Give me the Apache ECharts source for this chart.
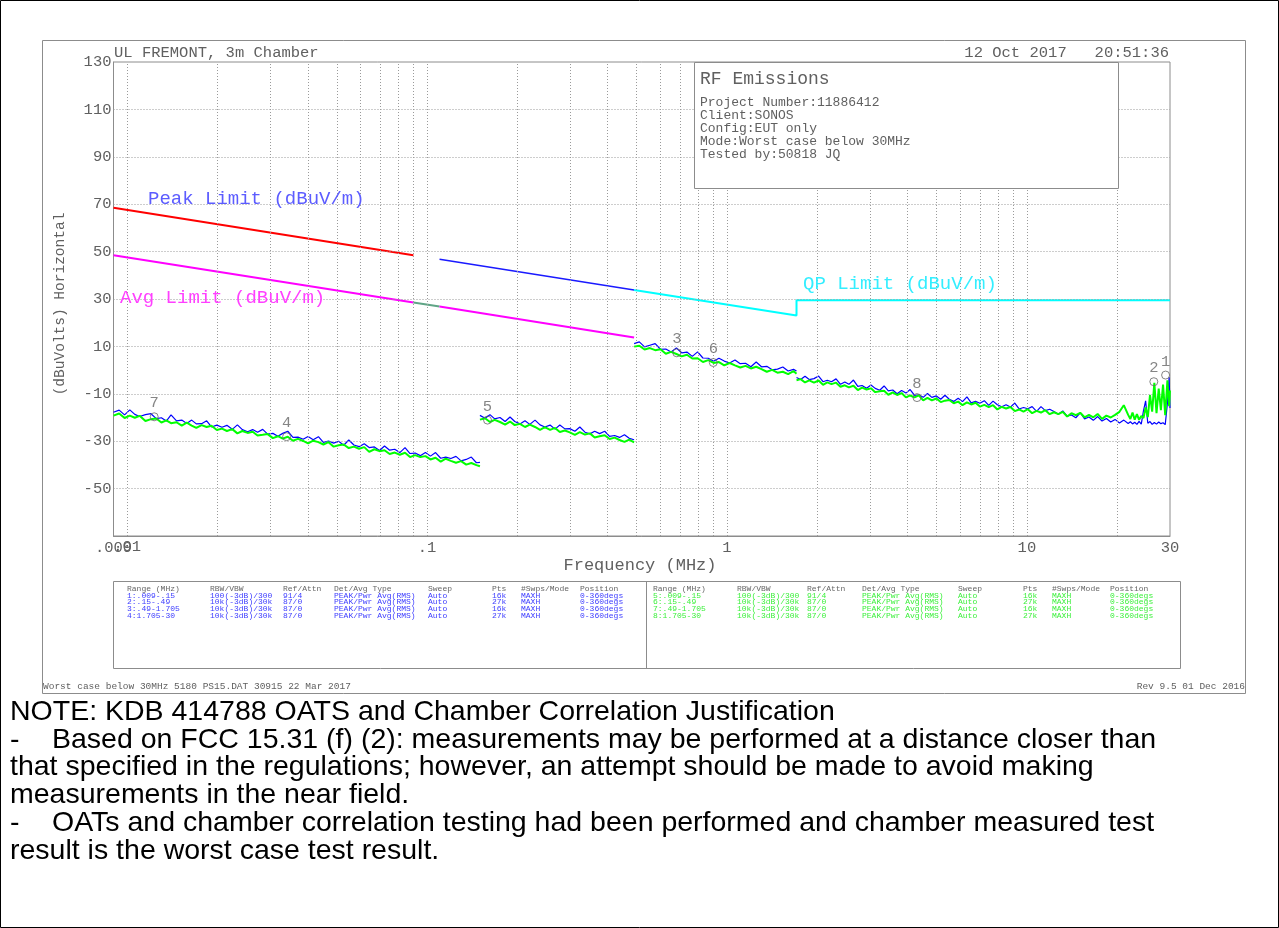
<!DOCTYPE html>
<html>
<head>
<meta charset="utf-8">
<title>RF Emissions</title>
<script src="https://cdn.jsdelivr.net/npm/echarts@6/dist/echarts.min.js"></script>
<style>
  html, body { margin: 0; padding: 0; background: #fff; }
  #c { width: 1279px; height: 928px; }
</style>
</head>
<body>
<div id="c"></div>
<script>
// ---- Sweep data (frequency in MHz, level in dBuV/m) ----
// Range 1 / 5 : 0.009 - 0.15 MHz
const freqR1 = [0.0090,0.0094,0.0098,0.0102,0.0106,0.0110,0.0115,0.0120,0.0125,0.0130,0.0135,0.0140,0.0146,0.0152,0.0158,0.0164,0.0170,0.0177,0.0184,0.0191,0.0199,0.0207,0.0215,0.0224,0.0233,0.0242,0.0252,0.0262,0.0272,0.0283,0.0294,0.0306,0.0318,0.0330,0.0343,0.0357,0.0371,0.0386,0.0401,0.0417,0.0434,0.0451,0.0469,0.0488,0.0507,0.0527,0.0548,0.0570,0.0593,0.0617,0.0641,0.0667,0.0694,0.0721,0.0750,0.0780,0.0811,0.0844,0.0877,0.0912,0.0949,0.0987,0.1026,0.1067,0.1110,0.1154,0.1200,0.1248,0.1298,0.1350,0.1404,0.1460,0.1500];
const peakR1 = [-17.8,-16.9,-18.9,-16.8,-18.7,-19.6,-18.8,-18.4,-20.5,-20.1,-21.5,-18.9,-21.4,-21.1,-22.5,-21.1,-22.7,-22.6,-21.4,-24.0,-23.2,-24.1,-23.3,-25.0,-23.1,-25.1,-26.0,-25.1,-26.2,-25.0,-27.0,-26.7,-27.9,-26.7,-25.8,-28.4,-28.3,-29.2,-28.0,-29.4,-28.1,-30.5,-29.9,-30.8,-30.0,-31.7,-29.5,-31.6,-32.3,-31.1,-32.7,-32.4,-33.9,-32.0,-33.8,-33.4,-34.8,-32.7,-35.2,-35.0,-36.1,-34.8,-36.3,-34.8,-37.2,-36.7,-37.3,-36.4,-38.3,-37.7,-36.7,-39.1,-38.9];
const avgR1 = [-19.2,-18.3,-20.2,-19.2,-20.1,-19.3,-21.5,-20.7,-20.4,-22.1,-21.2,-22.4,-22.0,-23.4,-22.2,-23.4,-24.4,-23.2,-24.0,-23.5,-25.3,-24.7,-25.7,-24.9,-26.7,-25.7,-26.5,-26.0,-27.6,-27.3,-27.0,-28.7,-27.9,-28.9,-28.1,-29.8,-29.0,-29.9,-30.9,-29.8,-30.4,-31.4,-30.4,-32.3,-31.7,-31.4,-32.9,-32.3,-33.2,-32.5,-34.5,-33.4,-34.2,-33.8,-35.4,-34.8,-35.7,-34.9,-36.7,-35.9,-36.7,-36.3,-37.7,-37.0,-38.6,-37.4,-38.3,-39.1,-38.4,-39.9,-39.2,-40.1,-40.6];

// Range 2 / 6 : 0.15 - 0.49 MHz
const freqR2 = [0.150,0.156,0.162,0.168,0.175,0.182,0.189,0.196,0.204,0.212,0.220,0.229,0.238,0.247,0.257,0.267,0.277,0.288,0.299,0.311,0.323,0.336,0.349,0.362,0.376,0.391,0.406,0.422,0.438,0.455,0.472,0.490];
const peakR2 = [-19.1,-20.3,-18.8,-20.6,-20.0,-21.7,-19.8,-21.7,-22.7,-21.4,-22.9,-21.1,-23.1,-24.0,-23.2,-24.9,-23.2,-24.8,-24.7,-25.8,-24.0,-26.2,-26.9,-25.8,-26.8,-25.8,-28.0,-27.6,-28.4,-27.3,-28.8,-29.4];
const avgR2 = [-20.9,-20.3,-21.9,-21.0,-21.9,-23.0,-21.7,-23.2,-22.7,-24.0,-23.0,-24.0,-25.2,-24.1,-25.2,-24.4,-26.1,-25.5,-26.3,-27.3,-26.2,-27.2,-26.7,-28.4,-27.9,-27.5,-29.1,-28.5,-29.5,-30.3,-29.3,-30.5];

// Range 3 / 7 : 0.49 - 1.705 MHz
const freqR3 = [0.490,0.510,0.531,0.553,0.576,0.600,0.625,0.651,0.678,0.706,0.735,0.766,0.798,0.831,0.866,0.902,0.940,0.979,1.020,1.063,1.107,1.153,1.201,1.251,1.303,1.357,1.414,1.473,1.535,1.599,1.666,1.705];
const peakR3 = [11.2,11.9,9.8,10.5,11.2,8.8,8.9,7.6,9.3,7.3,7.6,5.8,7.7,5.1,5.0,3.7,5.0,3.8,3.0,4.3,2.7,2.9,1.4,3.4,1.4,1.6,0.1,0.4,1.3,-0.4,0.3,-0.4];
const avgR3 = [9.9,10.3,8.7,9.3,8.4,8.8,6.9,7.7,6.8,5.8,6.5,4.9,5.0,3.4,4.2,3.0,3.4,2.0,3.0,2.0,1.1,1.8,0.7,1.4,0.4,-0.7,0.1,-1.1,-0.7,-1.7,-0.4,-1.5];

// Range 4 / 8 : 1.705 - 30 MHz
const freqR4 = [1.705,1.76,1.82,1.88,1.95,2.02,2.09,2.16,2.23,2.31,2.39,2.47,2.55,2.64,2.73,2.82,2.92,3.02,3.12,3.23,3.34,3.45,3.57,3.69,3.82,3.95,4.08,4.22,4.36,4.51,4.66,4.82,4.99,5.16,5.33,5.51,5.70,5.90,6.10,6.31,6.52,6.74,6.97,7.21,7.46,7.71,7.97,8.24,8.52,8.81,9.11,9.42,9.74,10.07,10.41,10.77,11.14,11.52,11.91,12.31,12.73,13.17,13.62,14.08,14.56,15.06,15.57,16.10,16.65,17.21,17.80,18.41,19.03,19.68,20.35,21.04,21.76,22.13,22.50,22.88,23.27,23.66,24.06,24.47,24.88,25.30,25.73,26.16,26.60,27.05,27.51,27.97,28.44,28.92,29.41,29.80,30.0];
const peakR4 = [-3.1,-4.0,-2.6,-4.0,-3.6,-2.5,-4.9,-4.3,-4.9,-3.7,-6.0,-5.0,-6.0,-4.2,-6.9,-6.5,-7.7,-6.3,-7.7,-8.5,-6.7,-8.8,-8.4,-10.0,-8.6,-9.7,-8.2,-10.7,-10.4,-11.5,-9.9,-11.5,-10.9,-12.3,-10.6,-12.3,-13.2,-11.9,-13.3,-11.3,-13.8,-13.2,-14.0,-12.9,-14.9,-13.1,-14.6,-15.5,-14.6,-15.6,-13.9,-16.4,-15.8,-16.3,-15.4,-17.4,-15.4,-17.1,-16.5,-17.5,-18.6,-17.2,-19.4,-18.9,-20.1,-18.0,-20.6,-19.8,-21.2,-19.6,-21.5,-20.4,-21.9,-20.8,-22.3,-21.1,-22.5,-21.8,-22.7,-22.0,-22.9,-21.6,-22.8,-17.2,-13.0,-22.4,-21.7,-22.9,-22.1,-22.8,-21.9,-22.6,-22.2,-23.0,-14.0,-3.0,-16.0];
const avgR4 = [-4.3,-3.8,-5.2,-4.3,-5.3,-4.4,-6.2,-5.2,-5.9,-5.3,-7.0,-6.4,-7.3,-6.6,-8.4,-7.4,-8.2,-7.7,-9.3,-8.9,-8.7,-10.4,-9.4,-10.5,-9.7,-11.5,-10.7,-11.5,-10.7,-12.8,-11.7,-12.8,-12.0,-13.5,-12.9,-12.6,-14.0,-13.3,-14.8,-13.6,-14.5,-13.8,-15.4,-14.7,-15.6,-14.8,-16.6,-15.5,-16.2,-15.6,-17.3,-16.6,-17.5,-16.5,-18.2,-17.2,-17.9,-16.9,-18.6,-17.8,-18.6,-17.6,-19.6,-18.2,-19.0,-18.0,-19.9,-18.9,-19.9,-18.5,-20.6,-19.2,-20.0,-18.9,-17.6,-14.8,-18.9,-20.6,-17.9,-20.9,-18.6,-21.0,-19.4,-20.2,-15.8,-19.8,-10.5,-17.5,-5.4,-18.2,-7.8,-16.9,-6.1,-19.0,-4.3,-15.2,-8.6];

// ---- Limit lines (dBuV/m) ----
const peakLimitLow  = [[0.009, 68.5], [0.09, 48.5]];
const peakLimitHigh = [[0.11, 46.8], [0.49, 33.8]];
const qpLimit       = [[0.49, 33.8], [1.705, 23.0], [1.705, 29.5], [30, 29.5]];
const avgLimitLow   = [[0.009, 48.5], [0.09, 28.5]];
const avgLimitGap   = [[0.09, 28.5], [0.11, 26.8]];
const avgLimitHigh  = [[0.11, 26.8], [0.49, 13.8]];

// ---- Peak markers ----
const markerNames = ['1', '2', '3', '4', '5', '6', '7', '8'];
const markerFreq  = [29.0, 26.5, 0.68, 0.034, 0.159, 0.90, 0.0123, 4.30];
const markerLevel = [-2.1, -4.9, 7.3, -28.1, -21.1, 3.2, -19.7, -11.6];

// ---- Axis grid values ----
const gridFreqs = [0.01,0.02,0.03,0.04,0.05,0.06,0.07,0.08,0.09,0.1,0.2,0.3,0.4,0.5,0.6,0.7,0.8,0.9,1,2,3,4,5,6,7,8,9,10,20];
const gridLevels = [110, 90, 70, 50, 30, 10, -10, -30, -50];

// ---- Text content ----
const infoLines = ['Project Number:11886412', 'Client:SONOS', 'Config:EUT only', 'Mode:Worst case below 30MHz', 'Tested by:50818 JQ'];
const tableHeader = ['Range (MHz)', 'RBW/VBW', 'Ref/Attn', 'Det/Avg Type', 'Sweep', 'Pts', '#Swps/Mode', 'Position'];
const tableLeft = [
  ['1:.009-.15', '100(-3dB)/300', '91/4', 'PEAK/Pwr Avg(RMS)', 'Auto', '16k', 'MAXH', '0-360degs'],
  ['2:.15-.49', '10k(-3dB)/30k', '87/0', 'PEAK/Pwr Avg(RMS)', 'Auto', '27k', 'MAXH', '0-360degs'],
  ['3:.49-1.705', '10k(-3dB)/30k', '87/0', 'PEAK/Pwr Avg(RMS)', 'Auto', '16k', 'MAXH', '0-360degs'],
  ['4:1.705-30', '10k(-3dB)/30k', '87/0', 'PEAK/Pwr Avg(RMS)', 'Auto', '27k', 'MAXH', '0-360degs']
];
const tableRight = [
  ['5:.009-.15', '100(-3dB)/300', '91/4', 'PEAK/Pwr Avg(RMS)', 'Auto', '16k', 'MAXH', '0-360degs'],
  ['6:.15-.49', '10k(-3dB)/30k', '87/0', 'PEAK/Pwr Avg(RMS)', 'Auto', '27k', 'MAXH', '0-360degs'],
  ['7:.49-1.705', '10k(-3dB)/30k', '87/0', 'PEAK/Pwr Avg(RMS)', 'Auto', '16k', 'MAXH', '0-360degs'],
  ['8:1.705-30', '10k(-3dB)/30k', '87/0', 'PEAK/Pwr Avg(RMS)', 'Auto', '27k', 'MAXH', '0-360degs']
];
const noteLines = [
  { dash: false, text: 'NOTE: KDB 414788 OATS and Chamber Correlation Justification' },
  { dash: true,  text: 'Based on FCC 15.31 (f) (2): measurements may be performed at a distance closer than' },
  { dash: false, text: 'that specified in the regulations; however, an attempt should be made to avoid making' },
  { dash: false, text: 'measurements in the near field.' },
  { dash: true,  text: 'OATs and chamber correlation testing had been performed and chamber measured test' },
  { dash: false, text: 'result is the worst case test result.' }
];

// ---- Layout / style ----
const MONO = "'Liberation Mono', 'DejaVu Sans Mono', monospace";
const INK = '#606060';
const FRAME = '#8c8c8c';
const NOTE_FONT = "28.5px 'Liberation Sans', Arial, sans-serif";

function pairs(xs, ys) { return xs.map((x, i) => [x, ys[i]]); }

function txt(x, y, s, size, color, align, extra) {
  return Object.assign({
    type: 'text', x: x, y: y, z: 60, silent: true,
    style: {
      text: s, fill: color || INK, font: size + 'px ' + MONO,
      align: align || 'left', textAlign: align || 'left',
      verticalAlign: 'middle', textVerticalAlign: 'middle'
    }
  }, extra || {});
}
function noteText(x, y, s) {
  return { type: 'text', x: x, y: y, z: 60, silent: true,
           style: { text: s, fill: '#000', font: NOTE_FONT, verticalAlign: 'middle', textVerticalAlign: 'middle' } };
}

const graphics = [];
// outer border and instrument page frame
graphics.push({ type: 'rect', z: 40, silent: true, shape: { x: 0.5, y: 0.5, width: 1278, height: 927 }, style: { fill: 'none', stroke: '#000', lineWidth: 1 } });
graphics.push({ type: 'rect', z: 40, silent: true, shape: { x: 42.5, y: 40.5, width: 1203, height: 653 }, style: { fill: 'none', stroke: FRAME, lineWidth: 1 } });

// header texts
graphics.push(txt(114, 53, 'UL FREMONT, 3m Chamber', 15.5));
graphics.push(txt(1169, 53, '12 Oct 2017   20:51:36', 15.5, INK, 'right'));

// information box
graphics.push({ type: 'rect', z: 50, silent: true, shape: { x: 694.5, y: 62.5, width: 424, height: 126 }, style: { fill: '#fff', stroke: FRAME, lineWidth: 1 } });
graphics.push(txt(700, 79, 'RF Emissions', 18));
infoLines.forEach((s, i) => graphics.push(txt(700, 103 + i * 12.9, s, 13)));

// limit captions
graphics.push(txt(148, 199, 'Peak Limit (dBuV/m)', 19, '#5c5cff'));
graphics.push(txt(120, 298, 'Avg Limit (dBuV/m)', 19, '#ff40ff'));
graphics.push(txt(803, 284, 'QP Limit (dBuV/m)', 19, '#33eeff'));

// axis titles
graphics.push(txt(60, 304, '(dBuVolts) Horizontal', 14.5, INK, 'center', { rotation: Math.PI / 2 }));
graphics.push(txt(640, 565, 'Frequency (MHz)', 17, INK, 'center'));

// setup table
graphics.push({ type: 'rect', z: 40, silent: true, shape: { x: 113.5, y: 581.5, width: 1067, height: 87 }, style: { fill: 'none', stroke: FRAME, lineWidth: 1 } });
graphics.push({ type: 'line', z: 40, silent: true, shape: { x1: 646.5, y1: 581.5, x2: 646.5, y2: 668.5 }, style: { stroke: FRAME, lineWidth: 1 } });
const colL = [127, 210, 283, 334, 428, 492, 521, 580];
const colR = [653, 737, 807, 862, 958, 1023, 1052, 1110];
const rowY = [588.5, 595.5, 602.3, 609.2, 616.1];
tableHeader.forEach((s, j) => {
  graphics.push(txt(colL[j], rowY[0], s, 8, '#666'));
  graphics.push(txt(colR[j], rowY[0], s, 8, '#666'));
});
tableLeft.forEach((row, i) => row.forEach((s, j) => graphics.push(txt(colL[j], rowY[i + 1], s, 8, '#3d3dff'))));
tableRight.forEach((row, i) => row.forEach((s, j) => graphics.push(txt(colR[j], rowY[i + 1], s, 8, '#3cf03c'))));

// footer
graphics.push(txt(43, 686, 'Worst case below 30MHz 5180 PS15.DAT 30915 22 Mar 2017', 9.5));
graphics.push(txt(1245, 686, 'Rev 9.5 01 Dec 2016', 9.5, INK, 'right'));

// note paragraph
noteLines.forEach((ln, i) => {
  const y = 712 + i * 27.8;
  if (ln.dash) graphics.push(noteText(10, y, '-'));
  graphics.push(noteText(ln.dash ? 52 : 10, y, ln.text));
});

// ---- Series ----
function traceSeries(name, data, color, width, z) {
  return { name: name, type: 'line', data: data, symbol: 'none', silent: true, z: z,
           lineStyle: { color: color, width: width }, animation: false };
}
function limitSeries(name, data, color, width) {
  return { name: name, type: 'line', data: data, symbol: 'none', silent: true, z: 3,
           lineStyle: { color: color, width: width }, animation: false };
}

const dotted = { color: '#9a9a9a', type: [1, 2], width: 1 };
const gridMarks = gridFreqs.map(f => ({ xAxis: f })).concat(gridLevels.map(v => ({ yAxis: v })));
// the 0.01 tick label sits on top of the .009 end label, so it is carried by its grid line
gridMarks[0] = {
  xAxis: 0.01,
  label: { show: true, position: 'start', distance: 3, formatter: '.01', color: INK, fontFamily: MONO, fontSize: 15.5 }
};

const series = [
  {
    name: 'grid', type: 'line', data: [], silent: true, z: 1, animation: false,
    markLine: { silent: true, symbol: 'none', animation: false, label: { show: false }, lineStyle: dotted, data: gridMarks }
  },
  limitSeries('Peak limit 9-90 kHz', peakLimitLow, '#ff0000', 2),
  limitSeries('Peak limit 110-490 kHz', peakLimitHigh, '#1a1aff', 1.5),
  limitSeries('QP limit', qpLimit, '#00ffff', 2),
  limitSeries('Avg limit 9-90 kHz', avgLimitLow, '#ff00ff', 2),
  limitSeries('Avg limit 90-110 kHz', avgLimitGap, '#5fa586', 2),
  limitSeries('Avg limit 110-490 kHz', avgLimitHigh, '#ff00ff', 2),
  traceSeries('Trace 1', pairs(freqR1, peakR1), '#0000ff', 1.2, 4),
  traceSeries('Trace 2', pairs(freqR2, peakR2), '#0000ff', 1.2, 4),
  traceSeries('Trace 3', pairs(freqR3, peakR3), '#0000ff', 1.2, 4),
  traceSeries('Trace 4', pairs(freqR4, peakR4), '#0000ff', 1.2, 4),
  traceSeries('Trace 5', pairs(freqR1, avgR1), '#00ff00', 2, 5),
  traceSeries('Trace 6', pairs(freqR2, avgR2), '#00ff00', 2, 5),
  traceSeries('Trace 7', pairs(freqR3, avgR3), '#00ff00', 2, 5),
  traceSeries('Trace 8', pairs(freqR4, avgR4), '#00ff00', 2, 5),
  {
    name: 'markers', type: 'scatter', z: 6, silent: true, animation: false,
    symbol: 'circle', symbolSize: 8,
    itemStyle: { color: 'rgba(0,0,0,0)', borderColor: '#666', borderWidth: 1 },
    label: { show: true, position: 'top', distance: 1, formatter: '{b}', color: '#666', fontFamily: MONO, fontSize: 15.5 },
    data: markerFreq.map((f, i) => ({ name: markerNames[i], value: [f, markerLevel[i]] }))
  }
];

const option = {
  backgroundColor: '#fff',
  animation: false,
  grid: { left: 113.5, top: 62, width: 1056.5, height: 474, show: true, borderColor: FRAME, borderWidth: 1, backgroundColor: 'transparent' },
  xAxis: {
    type: 'log', logBase: 10, min: 0.009, max: 30,
    axisLine: { show: true, onZero: false, lineStyle: { color: FRAME } },
    axisTick: { show: false },
    splitLine: { show: false },
    minorTick: { show: false },
    axisLabel: {
      show: true, showMinLabel: true, showMaxLabel: true, hideOverlap: false,
      margin: 4, color: INK, fontFamily: MONO, fontSize: 15.5,
      formatter: v => String(parseFloat(Number(v).toPrecision(3))).replace(/^0\./, '.')
    }
  },
  yAxis: {
    type: 'value', min: -70, max: 130, interval: 10,
    axisLine: { show: true, lineStyle: { color: FRAME } },
    axisTick: { show: false },
    splitLine: { show: false },
    axisLabel: {
      margin: 2, color: INK, fontFamily: MONO, fontSize: 15.5,
      formatter: v => ((v + 70) % 20 === 0 && v !== -70) ? String(v) : ''
    }
  },
  series: series,
  graphic: { elements: graphics }
};

const chart = echarts.init(document.getElementById('c'), null, { renderer: 'canvas', width: 1279, height: 928 });
chart.setOption(option);
</script>
</body>
</html>
